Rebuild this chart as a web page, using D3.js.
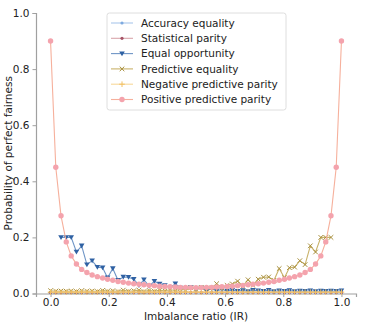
<!DOCTYPE html>
<html>
<head>
<meta charset="utf-8">
<script src="https://cdn.jsdelivr.net/npm/d3@7"></script>
<style>
  body { margin: 0; background: #fff; }
  text { font-family: "DejaVu Sans", sans-serif; fill: #222; }
</style>
</head>
<body>
<div id="chart"></div>
<script>
// imbalance ratio values on the x axis
const ir = [0, .018, .036, .054, .071, .089, .107, .125, .143, .161, .179, .196, .214, .232, .25, .268, .286, .304, .321, .339,
  .357, .375, .393, .411, .429, .446, .464, .482, .5, .518, .536, .554, .571, .589, .607, .625, .643, .661, .679, .696,
  .714, .732, .75, .768, .786, .804, .821, .839, .857, .875, .893, .911, .929, .946, .964, .982, 1];

const accuracyEquality = [0.003, 0.003, 0.003, 0.003, 0.003, 0.003, 0.003, 0.003, 0.003, 0.003, 0.003, 0.003, 0.003, 0.003, 0.003, 0.003, 0.003, 0.003, 0.003, 0.003,
  0.003, 0.003, 0.003, 0.003, 0.003, 0.003, 0.003, 0.003, 0.003, 0.003, 0.003, 0.003, 0.003, 0.003, 0.003, 0.003, 0.003, 0.003, 0.003, 0.003,
  0.003, 0.003, 0.003, 0.003, 0.003, 0.003, 0.003, 0.003, 0.003, 0.003, 0.003, 0.003, 0.003, 0.003, 0.003, 0.003, 0.003];
const statisticalParity = [0.004, 0.004, 0.004, 0.004, 0.004, 0.004, 0.004, 0.004, 0.004, 0.004, 0.004, 0.004, 0.004, 0.004, 0.004, 0.004, 0.004, 0.004, 0.004, 0.004,
  0.004, 0.004, 0.004, 0.004, 0.004, 0.004, 0.004, 0.004, 0.004, 0.004, 0.004, 0.004, 0.004, 0.004, 0.004, 0.004, 0.004, 0.004, 0.004, 0.004,
  0.004, 0.004, 0.004, 0.004, 0.004, 0.004, 0.004, 0.004, 0.004, 0.004, 0.004, 0.004, 0.004, 0.004, 0.004, 0.004, 0.004];
const equalOpportunity = [null, null, 0.2, 0.2, 0.2, 0.148, 0.17, 0.103, 0.117, 0.094, 0.092, 0.056, 0.089, 0.047, 0.059, 0.058, 0.051, 0.029, 0.049, 0.026,
  0.044, 0.034, 0.029, 0.02, 0.035, 0.02, 0.018, 0.022, 0.015, 0.02, 0.012, 0.016, 0.01, 0.014, 0.009, 0.012, 0.008, 0.011, 0.007, 0.012,
  0.01, 0.008, 0.012, 0.007, 0.01, 0.008, 0.011, 0.007, 0.009, 0.008, 0.01, 0.007, 0.009, 0.008, 0.009, 0.008, 0.01];
const predictiveEquality = [0.01, 0.008, 0.009, 0.008, 0.009, 0.007, 0.01, 0.008, 0.009, 0.007, 0.011, 0.008, 0.01, 0.007, 0.012, 0.008, 0.01, 0.012, 0.007, 0.011,
  0.008, 0.012, 0.009, 0.014, 0.01, 0.016, 0.012, 0.02, 0.015, 0.022, 0.018, 0.02, 0.035, 0.02, 0.029, 0.034, 0.044, 0.026, 0.049, 0.029,
  0.051, 0.058, 0.059, 0.047, 0.089, 0.056, 0.092, 0.094, 0.117, 0.103, 0.17, 0.148, 0.2, 0.2, 0.2, null, null];
const negativePredParity = [0.005, 0.005, 0.005, 0.005, 0.005, 0.005, 0.005, 0.005, 0.005, 0.005, 0.005, 0.005, 0.005, 0.005, 0.005, 0.005, 0.005, 0.005, 0.005, 0.005,
  0.005, 0.005, 0.005, 0.005, 0.005, 0.005, 0.005, 0.005, 0.005, 0.005, 0.005, 0.005, 0.005, 0.005, 0.005, 0.005, 0.005, 0.005, 0.005, 0.005,
  0.005, 0.005, 0.005, 0.005, 0.005, 0.005, 0.005, 0.005, 0.005, 0.005, 0.005, 0.005, 0.005, 0.005, 0.005, 0.005, 0.005];
const positivePredParity = [0.9, 0.45, 0.277, 0.184, 0.134, 0.105, 0.086, 0.075, 0.066, 0.06, 0.055, 0.051, 0.047, 0.043, 0.04, 0.037, 0.035, 0.033, 0.031, 0.029,
  0.028, 0.026, 0.025, 0.024, 0.023, 0.022, 0.022, 0.021, 0.021, 0.021, 0.022, 0.022, 0.023, 0.024, 0.025, 0.026, 0.028, 0.029, 0.031, 0.033,
  0.035, 0.037, 0.04, 0.043, 0.047, 0.051, 0.055, 0.06, 0.066, 0.075, 0.086, 0.105, 0.134, 0.184, 0.277, 0.45, 0.9];

const xTicks = [0, 0.2, 0.4, 0.6, 0.8, 1.0];
const yTicks = [0, 0.2, 0.4, 0.6, 0.8, 1.0];

const series = [
  {name: 'Accuracy equality', values: accuracyEquality, line: '#a9c7ec', fill: '#7eaae0', marker: 'dot'},
  {name: 'Statistical parity', values: statisticalParity, line: '#d8a4ab', fill: '#a65366', marker: 'dot'},
  {name: 'Equal opportunity', values: equalOpportunity, line: '#6f95c6', fill: '#2f61a3', marker: 'tri'},
  {name: 'Predictive equality', values: predictiveEquality, line: '#c9b26a', fill: '#a8903e', marker: 'x'},
  {name: 'Negative predictive parity', values: negativePredParity, line: '#f7d89a', fill: '#f2c063', marker: 'plus'},
  {name: 'Positive predictive parity', values: positivePredParity, line: '#f6b09c', fill: '#f4a3ad', marker: 'circle'}
];

const W = 366, H = 325;
const margin = {top: 13, right: 10, bottom: 31.5, left: 36};

const svg = d3.select('#chart').append('svg')
  .attr('width', W)
  .attr('height', H);

const x = d3.scaleLinear().domain([-0.05, 1.05]).range([margin.left, W - margin.right]);
const y = d3.scaleLinear().domain([0, 1]).range([H - margin.bottom, margin.top]);

// axes
const xAxis = svg.append('g')
  .attr('transform', `translate(0,${H - margin.bottom})`)
  .call(d3.axisBottom(x).tickValues(xTicks).tickFormat(d3.format('.1f')).tickSize(3.5).tickPadding(2));
const yAxis = svg.append('g')
  .attr('transform', `translate(${margin.left},0)`)
  .call(d3.axisLeft(y).tickValues(yTicks).tickFormat(d3.format('.1f')).tickSize(3.5).tickPadding(3));
[xAxis, yAxis].forEach(a => {
  a.select('.domain').attr('stroke', '#a0a0a0').attr('stroke-width', 1.2);
  a.selectAll('.tick line').attr('stroke', '#a0a0a0');
  a.selectAll('.tick text').style('font-size', '10.5px').attr('fill', '#222');
});

svg.append('text')
  .attr('x', (x(-0.05) + x(1.05)) / 2)
  .attr('y', 320)
  .attr('text-anchor', 'middle')
  .style('font-size', '10.5px')
  .text('Imbalance ratio (IR)');
svg.append('text')
  .attr('transform', `translate(12,${(y(0) + y(1)) / 2}) rotate(-90)`)
  .attr('text-anchor', 'middle')
  .style('font-size', '10.5px')
  .text('Probability of perfect fairness');

// marker drawing
function drawMarker(g, type, s) {
  if (type === 'dot') {
    g.append('circle').attr('r', 1.6).attr('fill', s.fill);
  } else if (type === 'circle') {
    g.append('circle').attr('r', 2.7).attr('fill', s.fill);
  } else if (type === 'tri') {
    g.append('path').attr('d', 'M-2.8,-2.2L2.8,-2.2L0,2.6Z').attr('fill', s.fill);
  } else if (type === 'x') {
    g.append('path').attr('d', 'M-2.3,-2.3L2.3,2.3M-2.3,2.3L2.3,-2.3').attr('stroke', s.fill).attr('stroke-width', 1);
  } else if (type === 'plus') {
    g.append('path').attr('d', 'M-2.8,0L2.8,0M0,-2.8L0,2.8').attr('stroke', s.fill).attr('stroke-width', 1);
  }
}

const line = d3.line()
  .defined(d => d.v != null)
  .x(d => x(d.x))
  .y(d => y(d.v));

series.forEach(s => {
  const pts = ir.map((v, i) => ({x: v, v: s.values[i]}));
  const g = svg.append('g');
  g.append('path')
    .datum(pts)
    .attr('fill', 'none')
    .attr('stroke', s.line)
    .attr('stroke-width', 1.1)
    .attr('d', line);
  g.selectAll('g.m')
    .data(pts.filter(d => d.v != null))
    .enter().append('g')
      .attr('class', 'm')
      .attr('transform', d => `translate(${x(d.x)},${y(d.v)})`)
      .each(function() { drawMarker(d3.select(this), s.marker, s); });
});

// legend
const legend = svg.append('g').attr('transform', 'translate(107,13)');
legend.append('rect')
  .attr('width', 179)
  .attr('height', 97)
  .attr('rx', 2.5)
  .attr('fill', '#fff')
  .attr('fill-opacity', 0.85)
  .attr('stroke', '#d6d6d6')
  .attr('stroke-width', 0.8);
series.forEach((s, i) => {
  const row = legend.append('g').attr('transform', `translate(0,${10 + i * 15.3})`);
  row.append('line')
    .attr('x1', 4).attr('x2', 26)
    .attr('stroke', s.line)
    .attr('stroke-width', 1.1);
  drawMarker(row.append('g').attr('transform', 'translate(15,0)'), s.marker, s);
  row.append('text')
    .attr('x', 34)
    .attr('dy', '0.35em')
    .style('font-size', '10.5px')
    .text(s.name);
});
</script>
</body>
</html>
